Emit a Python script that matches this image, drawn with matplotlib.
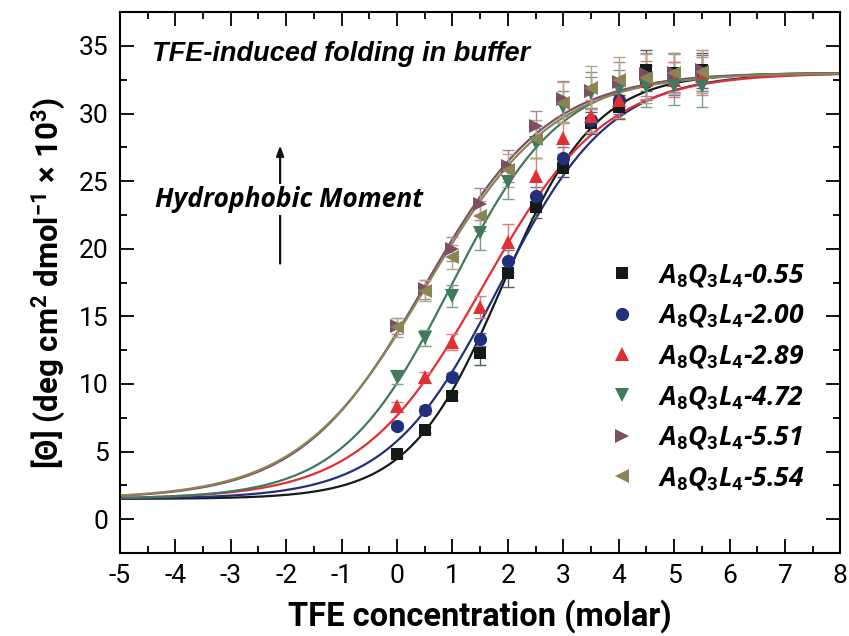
import numpy as np
import matplotlib
matplotlib.use("Agg")
import matplotlib.pyplot as plt
from matplotlib.ticker import MultipleLocator

plt.rcParams['mathtext.fontset'] = 'custom'
plt.rcParams['mathtext.it'] = 'Open Sans:italic:bold'
plt.rcParams['mathtext.rm'] = 'Roboto:bold'
plt.rcParams['mathtext.bf'] = 'Roboto:bold'
plt.rcParams['axes.unicode_minus'] = False

# TFE concentration (M) for every measured series
tfe = [0, 0.5, 1, 1.5, 2, 2.5, 3, 3.5, 4, 4.5, 5, 5.5]

labels = ["0.55", "2.00", "2.89", "4.72", "5.51", "5.54"]

theta_055 = [4.8, 6.6, 9.1, 12.3, 18.2, 23.1, 26.0, 29.3, 30.5, 33.2, 33.0, 33.2]
theta_200 = [6.9, 8.1, 10.5, 13.3, 19.1, 23.9, 26.7, 29.5, 31.0, 32.3, 32.6, 33.0]
theta_289 = [8.4, 10.5, 13.1, 15.7, 20.5, 25.4, 28.2, 29.8, 31.0, 32.5, 32.5, 32.8]
theta_472 = [10.5, 13.4, 16.5, 21.2, 24.9, 27.8, 30.5, 31.5, 31.8, 32.0, 32.0, 32.0]
theta_551 = [14.3, 17.0, 20.0, 23.3, 26.1, 29.1, 31.1, 31.7, 32.3, 32.9, 33.0, 33.2]
theta_554 = [14.2, 16.9, 19.4, 22.4, 25.8, 28.1, 30.8, 31.9, 32.5, 32.6, 33.0, 33.1]

err_055 = [0.2, 0.2, 0.3, 0.9, 1.0, 0.8, 0.7, 0.8, 0.9, 1.5, 1.5, 1.3]
err_200 = [0.2, 0.3, 0.3, 0.5, 0.8, 0.7, 0.8, 0.9, 1.0, 1.3, 1.2, 1.3]
err_289 = [0.3, 0.4, 0.6, 0.8, 1.3, 1.3, 1.2, 1.2, 1.3, 1.4, 1.3, 1.4]
err_472 = [0.5, 0.6, 0.8, 1.3, 1.2, 1.1, 1.2, 1.2, 1.4, 1.5, 1.4, 1.5]
err_551 = [0.6, 0.7, 0.9, 1.2, 1.2, 1.1, 1.3, 1.4, 1.5, 1.6, 1.4, 1.5]
err_554 = [0.7, 0.8, 0.9, 1.1, 1.2, 1.4, 1.5, 1.6, 1.7, 1.8, 1.5, 1.6]

# Boltzmann fit parameters per series: (bottom, top, midpoint, width)
fit_055 = (1.5, 33.0, 1.90, 0.84)
fit_200 = (1.5, 33.0, 1.85, 1.00)
fit_289 = (1.5, 33.0, 1.555, 1.10)
fit_472 = (1.5, 33.0, 0.975, 0.99)
fit_551 = (1.5, 33.0, 0.50, 1.12)
fit_554 = (1.5, 33.0, 0.53, 1.15)

series = [theta_055, theta_200, theta_289, theta_472, theta_551, theta_554]
errors = [err_055, err_200, err_289, err_472, err_551, err_554]
fits = [fit_055, fit_200, fit_289, fit_472, fit_551, fit_554]

colors = ["#131b19", "#22307c", "#df3034", "#3f7a5f", "#7c4f63", "#8b8455"]
err_colors = ["#55605c", "#6b74a8", "#e7787a", "#7aa08c", "#a8839a", "#b1aa80"]
markers = ["s", "o", "^", "v", ">", "<"]
msizes = [8, 9.5, 9.5, 9.5, 9.5, 9.5]


def boltzmann(x, a1, a2, x0, dx):
    return a2 + (a1 - a2) / (1.0 + np.exp((x - x0) / dx))


fig = plt.figure(figsize=(8.49, 6.36), dpi=100)
ax = fig.add_axes([0.1413, 0.1305, 0.8485, 0.8505])

xs = np.linspace(-5, 8, 400)
handles = []
for y, e, p, c, ec, m, ms, lab in zip(series, errors, fits, colors, err_colors,
                                       markers, msizes, labels):
    ax.plot(xs, boltzmann(xs, *p), color=c, lw=1.6, zorder=2)
    ax.errorbar(tfe, y, yerr=e, fmt="none", ecolor=ec, elinewidth=1.0,
                capsize=4, capthick=1.0, zorder=3)
    h, = ax.plot(tfe, y, linestyle="none", marker=m, markersize=ms, color=c,
                 markeredgewidth=0, zorder=4,
                 label=r"$A_8Q_3L_4$" + "-" + lab)
    handles.append(h)

ax.set_xlim(-5, 8)
ax.set_ylim(-2.5, 37.5)
ax.xaxis.set_major_locator(MultipleLocator(1))
ax.xaxis.set_minor_locator(MultipleLocator(0.5))
ax.yaxis.set_major_locator(MultipleLocator(5))
ax.yaxis.set_minor_locator(MultipleLocator(2.5))
ax.tick_params(which="both", direction="in", top=True, right=True, width=1.3)
ax.tick_params(which="major", length=10)
ax.tick_params(which="minor", length=5)
ax.tick_params(axis="both", labelsize=19, pad=8)
for lbl in ax.get_xticklabels() + ax.get_yticklabels():
    lbl.set_fontfamily("Roboto")
for s in ax.spines.values():
    s.set_linewidth(1.5)

ax.set_xlabel("TFE concentration (molar)", fontsize=23.5, fontweight="bold",
              fontfamily="Roboto", labelpad=8)
ax.set_ylabel(r"[Θ] (deg cm$^2$ dmol$^{-1}$ × 10$^3$)", fontsize=22.5,
              fontweight="bold", fontfamily="Roboto", labelpad=8)

ax.text(-4.42, 34.4, "TFE-induced folding in buffer", fontsize=19.5,
        fontweight="bold", fontstyle="italic", fontfamily="Liberation Sans",
        va="center", ha="left")

ax.annotate("", xy=(-2.11, 27.85), xytext=(-2.11, 18.7),
            arrowprops=dict(arrowstyle="-|>,head_length=0.6,head_width=0.22",
                            color="#111111", lw=1.6))
ax.text(-4.37, 23.65, "Hydrophobic Moment", fontsize=19, fontweight="bold",
        fontstyle="italic", fontfamily="Open Sans", va="center", ha="left",
        bbox=dict(facecolor="white", edgecolor="none", pad=1.5), zorder=5)

leg = ax.legend(handles=handles, loc="center left",
                bbox_to_anchor=(0.664, 0.326), frameon=False,
                prop=dict(family="Open Sans", weight="bold", style="italic",
                          size=19),
                handletextpad=0.85, labelspacing=0.5, handlelength=1.0,
                borderaxespad=0)

fig.savefig("out.png", dpi=100)
